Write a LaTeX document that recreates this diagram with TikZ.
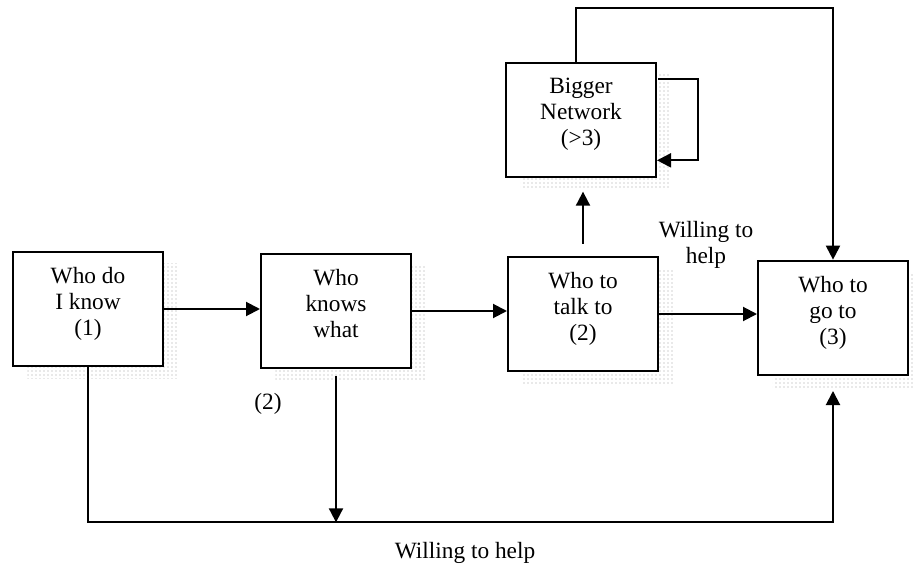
\documentclass[tikz,border=0pt]{standalone}
\usepackage{fontspec}
\setmainfont{Liberation Serif}
\usetikzlibrary{shapes.geometric,arrows,arrows.meta,shadows}
\usetikzlibrary{positioning,calc,patterns}

\begin{document}
\begin{tikzpicture}[x=0.75pt,y=-0.75pt,
        font=\fontsize{17.5}{19.5}\selectfont,
        box/.style={draw=black, line width=1.5pt, fill=white, align=center,
          minimum width=112.5pt, minimum height=86pt, inner sep=0pt,
          text depth=12pt,
          drop shadow={shadow xshift=11pt, shadow yshift=-9pt, opacity=1,
            pattern=dots, pattern color=gray!75}},
        arr/.style={line width=1.5pt, -{Triangle[length=10.5pt,width=10.5pt]}},
        line/.style={line width=1.5pt}]
        \useasboundingbox (0,0) rectangle (914,567);

        % the boxes
        \node[box] (know)   at (88,309)  {Who do\\I know\\(1)};
        \node[box] (what)   at (336,311) {Who\\knows\\what};
        \node[box] (talk)   at (583,314) {Who to\\talk to\\(2)};
        \node[box] (goto)   at (833,318) {Who to\\go to\\(3)};
        \node[box] (bigger) at (581,120) {Bigger\\Network\\(>3)};

        % labels
        \node (two)   at (268,404) {(2)};
        \node[align=center] (wtop) at (706,245) {Willing to\\help};
        \node (wbot)  at (465,553) {Willing to help};

        % straight arrows
        \draw[arr] (know.east) -- (what.west |- know.east);
        \draw[arr] (what.east) -- (talk.west |- what.east);
        \draw[arr] (talk.east) -- (goto.west |- talk.east);
        \draw[arr, shorten <=9pt, shorten >=10pt] (talk.north) -- (talk.north |- bigger.south);

        % loop on the bigger network
        \draw[arr] ($(bigger.north east)+(1,17)$) -- ++(40,0)
          |- ($(bigger.south east)+(0,-18)$);

        % over the top
        \draw[arr] ($(bigger.north)+(-5,0)$) -- ++(0,-54) -| (goto.north);

        % along the bottom
        \coordinate (bend) at ($(know.south)+(0,155)$);
        \draw[arr, shorten >=11pt] (know.south) -- (bend) -| (goto.south);
        \draw[arr, shorten <=5pt] (what.south) -- (what.south |- bend);
\end{tikzpicture}
\end{document}
